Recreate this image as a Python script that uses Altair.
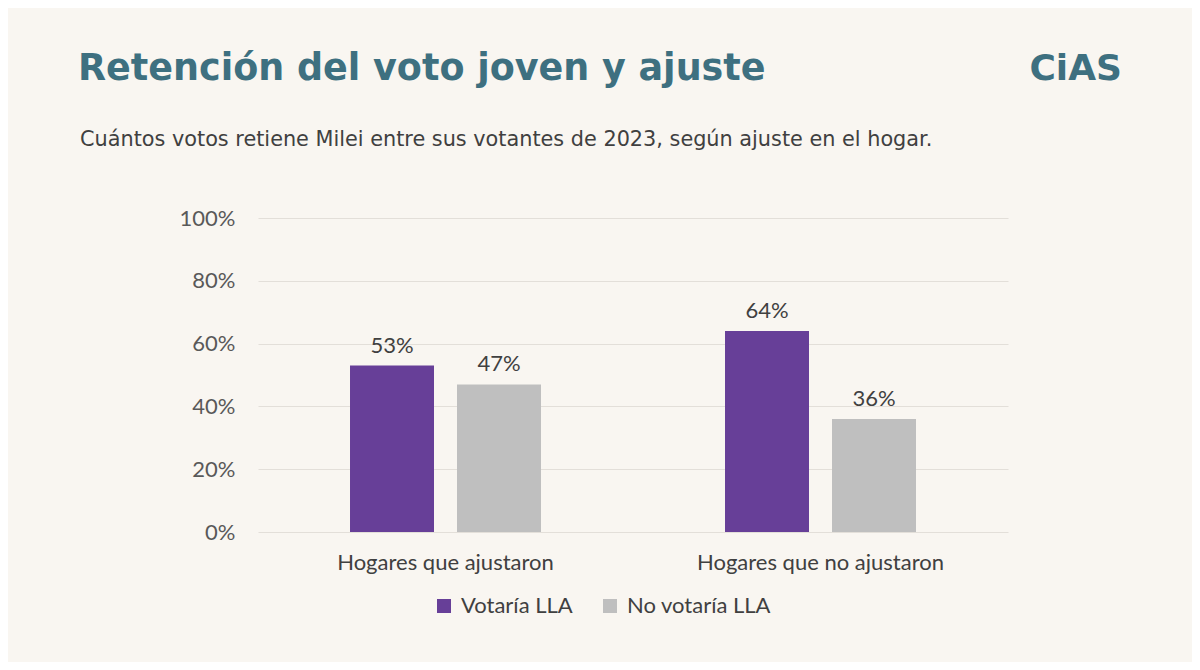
import altair as alt
import pandas as pd

categories = ["Hogares que ajustaron", "Hogares que no ajustaron"]
series = ["Votaría LLA", "No votaría LLA"]
votaria = [53, 64]
no_votaria = [47, 36]
y_ticks = [0, 0.2, 0.4, 0.6, 0.8, 1.0]
colors = ["#673F98", "#BFBFBF"]
title_text = ["Retención del voto joven y ajuste"]
subtitle_text = ["Cuántos votos retiene Milei entre sus votantes de 2023, según ajuste en el hogar."]
logo_text = ["CiAS"]

rows = []
for i, c in enumerate(categories):
    rows.append({"cat": c, "serie": series[0], "val": votaria[i] / 100})
    rows.append({"cat": c, "serie": series[1], "val": no_votaria[i] / 100})
df = pd.DataFrame(rows)

FONT = "Lato"
HEAD = "DejaVu Sans"
TEAL = "#3E7080"

base = alt.Chart(df).encode(
    x=alt.X("cat:N", sort=categories, title=None,
            scale=alt.Scale(paddingInner=0, paddingOuter=0),
            axis=alt.Axis(labelAngle=0, ticks=False, domain=False, labelPadding=20,
                          labelFontSize=22, labelColor="#404040", labelFont=FONT,
                          labelLimit=0)),
    xOffset=alt.XOffset("serie:N", sort=series,
                        scale=alt.Scale(paddingInner=0.215, paddingOuter=0.86)),
    y=alt.Y("val:Q", title=None,
            scale=alt.Scale(domain=[0, 1]),
            axis=alt.Axis(values=y_ticks, format=".0%", ticks=False, domain=False,
                          labelPadding=23, labelFontSize=22, labelColor="#595959",
                          labelFont=FONT, gridColor="#E3DFD9", gridWidth=1)),
)

bars = base.mark_bar().encode(
    color=alt.Color("serie:N", sort=series,
                    scale=alt.Scale(domain=series, range=colors),
                    legend=alt.Legend(title=None, orient="none", direction="horizontal",
                                      legendX=175, legendY=377,
                                      symbolType="square", symbolSize=196,
                                      labelFontSize=22, labelColor="#404040",
                                      labelFont=FONT, columnPadding=26,
                                      symbolStrokeWidth=0, labelOffset=6)),
)

labels = base.mark_text(dy=-8, baseline="bottom", fontSize=22, color="#404040",
                        font=FONT).encode(
    text=alt.Text("val:Q", format=".0%"),
)

title = alt.Chart(pd.DataFrame({"t": title_text})).mark_text(
    align="left", baseline="alphabetic", fontSize=36.5, fontWeight="bold",
    color=TEAL, font=HEAD,
).encode(text="t:N", x=alt.value(-180), y=alt.value(-138))

subtitle = alt.Chart(pd.DataFrame({"t": subtitle_text})).mark_text(
    align="left", baseline="alphabetic", fontSize=20.8,
    color="#404040", font=HEAD,
).encode(text="t:N", x=alt.value(-178), y=alt.value(-72))

logo = alt.Chart(pd.DataFrame({"t": logo_text})).mark_text(
    align="right", baseline="alphabetic", fontSize=36, fontWeight="bold",
    color=TEAL, font=HEAD,
).encode(text="t:N", x=alt.value(864), y=alt.value(-138))

chart = alt.layer(bars, labels, title, subtitle, logo).properties(
    width=750, height=314,
    autosize=alt.AutoSizeParams(type="none"),
    padding={"left": 250, "top": 210, "right": 184, "bottom": 130},
    background="#F9F6F1",
).configure_view(stroke=None)

chart.save("out.html", embed_options={"renderer": "svg", "actions": False})
